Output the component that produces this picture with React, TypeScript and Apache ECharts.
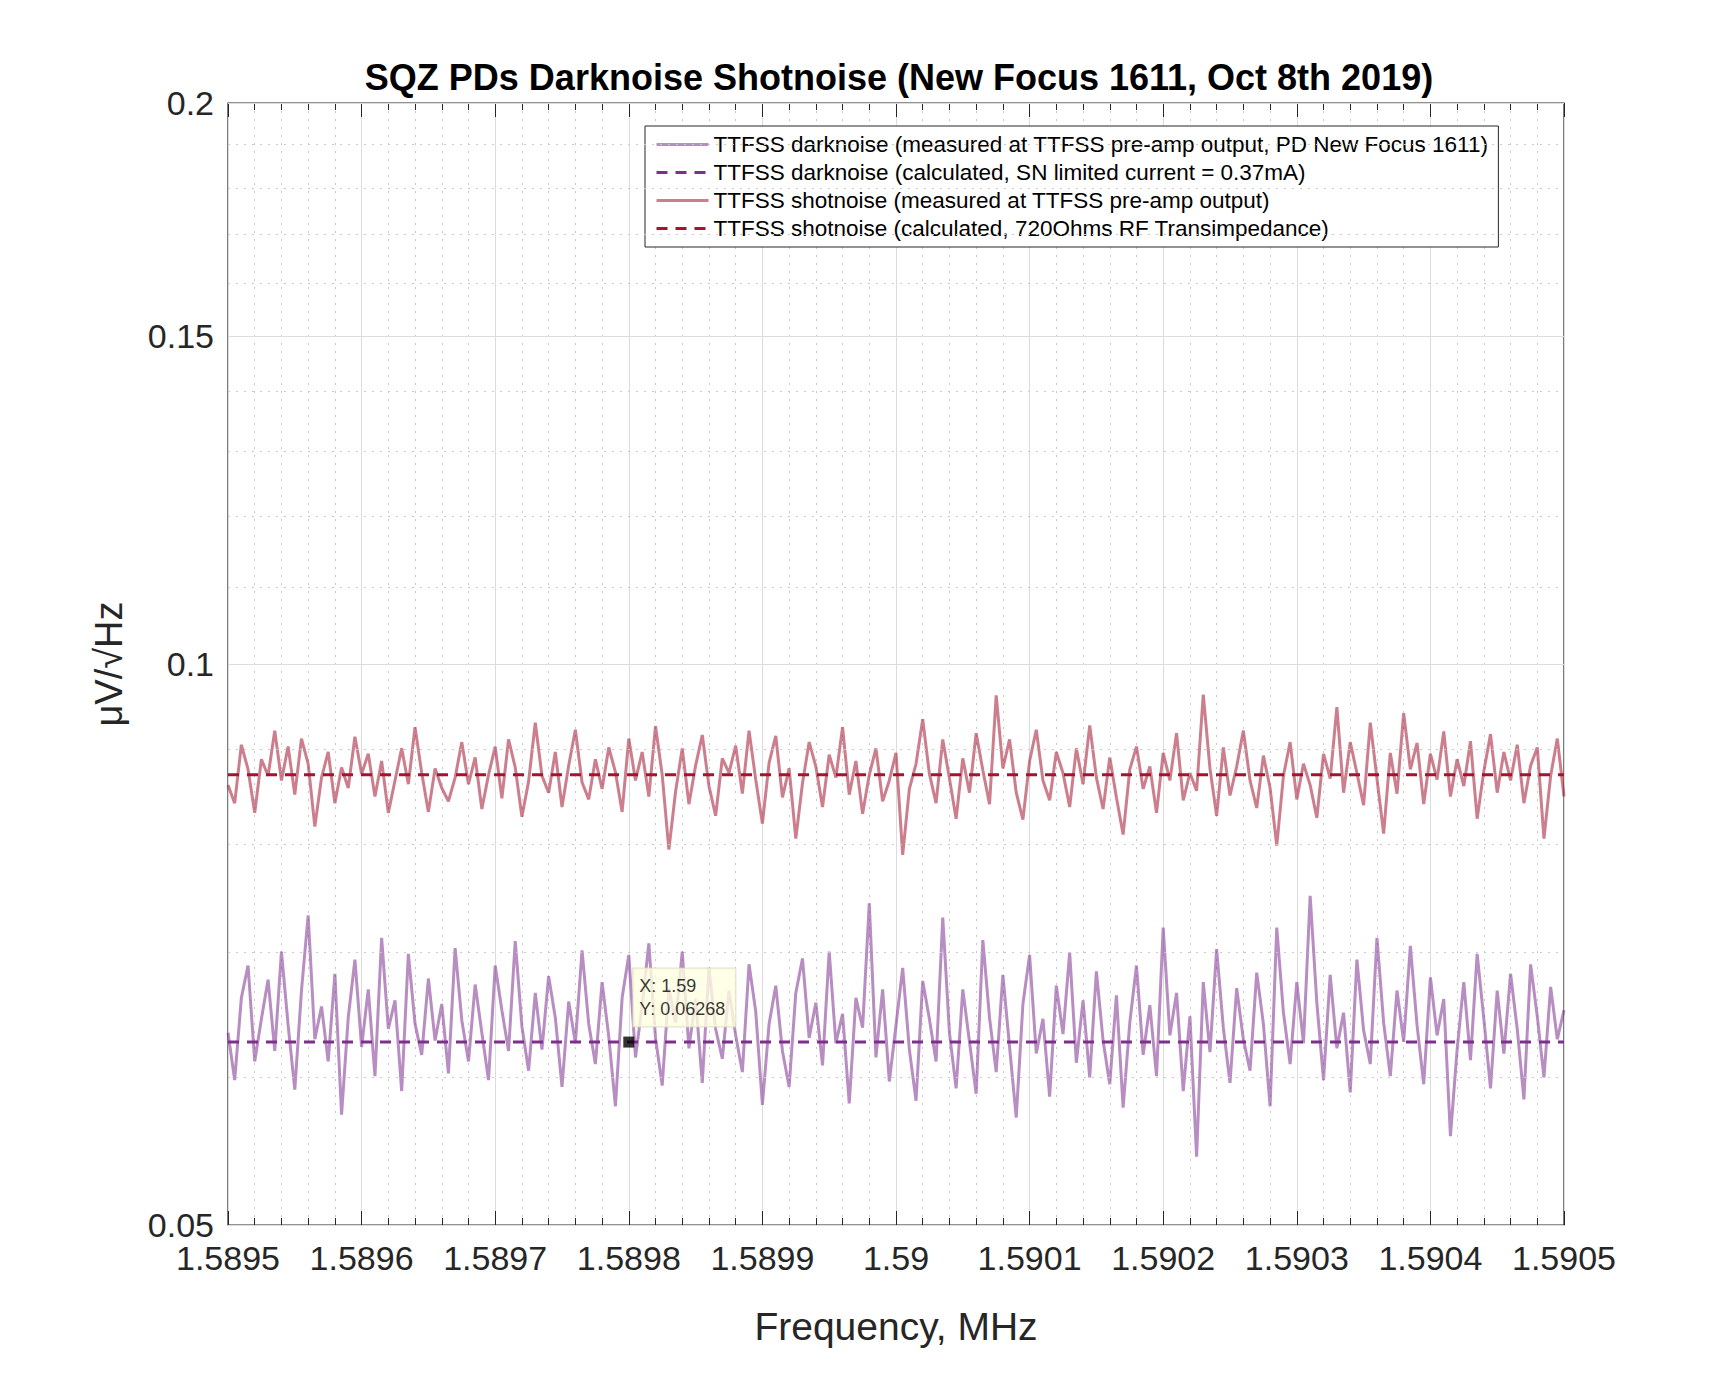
import React, { useEffect, useRef } from "react";
import * as echarts from "echarts";

const freqStart = 1.5895;
const freqStep = 0.000005;

// measured shot noise, µV/√Hz
const shotMeasured = [
  0.0861, 0.0842, 0.0905, 0.0878, 0.0832, 0.0889, 0.0871, 0.0921, 0.0866, 0.0903,
  0.0851, 0.0912, 0.0884, 0.0818, 0.0869, 0.0897, 0.0842, 0.0880, 0.0858, 0.0914,
  0.0873, 0.0895, 0.0849, 0.0887, 0.0832, 0.0866, 0.0901, 0.0862, 0.0925, 0.0874,
  0.0833, 0.0879, 0.0858, 0.0844, 0.0869, 0.0908, 0.0862, 0.0891, 0.0836, 0.0872,
  0.0903, 0.0847, 0.0911, 0.0880, 0.0828, 0.0865, 0.0930, 0.0871, 0.0853, 0.0897,
  0.0838, 0.0882, 0.0922, 0.0864, 0.0846, 0.0889, 0.0857, 0.0902, 0.0875, 0.0833,
  0.0912, 0.0866, 0.0897, 0.0849, 0.0926, 0.0872, 0.0795, 0.0854, 0.0901, 0.0841,
  0.0882, 0.0916, 0.0860, 0.0829, 0.0890, 0.0874, 0.0904, 0.0852, 0.0921, 0.0867,
  0.0821, 0.0885, 0.0915, 0.0848, 0.0879, 0.0806, 0.0863, 0.0908, 0.0881, 0.0838,
  0.0894, 0.0869, 0.0925, 0.0851, 0.0887, 0.0831, 0.0872, 0.0901, 0.0844, 0.0866,
  0.0896, 0.0790, 0.0857, 0.0884, 0.0934, 0.0873, 0.0842, 0.0911, 0.0868, 0.0826,
  0.0890, 0.0853, 0.0918, 0.0877, 0.0841, 0.0962, 0.0879, 0.0911, 0.0853, 0.0825,
  0.0887, 0.0922, 0.0866, 0.0845, 0.0897, 0.0874, 0.0838, 0.0901, 0.0862, 0.0927,
  0.0869, 0.0836, 0.0891, 0.0848, 0.0810, 0.0878, 0.0903, 0.0857, 0.0881, 0.0832,
  0.0896, 0.0866, 0.0918, 0.0845, 0.0874, 0.0855, 0.0963, 0.0879, 0.0829, 0.0902,
  0.0850, 0.0881, 0.0921, 0.0866, 0.0837, 0.0893, 0.0858, 0.0799, 0.0871, 0.0908,
  0.0846, 0.0884, 0.0861, 0.0827, 0.0895, 0.0868, 0.0948, 0.0853, 0.0908, 0.0874,
  0.0840, 0.0930, 0.0868, 0.0811, 0.0896, 0.0852, 0.0941, 0.0878, 0.0907, 0.0841,
  0.0895, 0.0867, 0.0920, 0.0849, 0.0889, 0.0860, 0.0909, 0.0826, 0.0876, 0.0917,
  0.0853, 0.0897, 0.0866, 0.0905, 0.0842, 0.0882, 0.0902, 0.0806, 0.0871, 0.0912,
  0.0849,
];

// measured dark noise, µV/√Hz
const darkMeasured = [
  0.0634, 0.0598, 0.0662, 0.0689, 0.0612, 0.0645, 0.0677, 0.0620, 0.0701, 0.0640,
  0.0591, 0.0668, 0.0733, 0.0629, 0.0655, 0.0612, 0.0682, 0.0573, 0.0646, 0.0694,
  0.0623, 0.0669, 0.0601, 0.0713, 0.0637, 0.0660, 0.0590, 0.0699, 0.0641, 0.0617,
  0.0678, 0.0628, 0.0657, 0.0603, 0.0704, 0.0644, 0.0612, 0.0673, 0.0634, 0.0598,
  0.0689, 0.0652, 0.0620, 0.0710, 0.0639, 0.0605, 0.0666, 0.0621, 0.0680, 0.0646,
  0.0593, 0.0659, 0.0626, 0.0702, 0.0641, 0.0610, 0.0675, 0.0631, 0.0579, 0.0662,
  0.0698, 0.0615, 0.0656, 0.0708, 0.0630, 0.0594, 0.0670, 0.0642, 0.0701, 0.0622,
  0.0661, 0.0596, 0.0687, 0.0637, 0.0614, 0.0668, 0.0632, 0.0604, 0.0690, 0.0651,
  0.0580, 0.0641, 0.0672, 0.0620, 0.0593, 0.0666, 0.0695, 0.0630, 0.0658, 0.0609,
  0.0701, 0.0626, 0.0649, 0.0581, 0.0662, 0.0638, 0.0744, 0.0615, 0.0669, 0.0597,
  0.0640, 0.0687, 0.0621, 0.0583, 0.0676, 0.0645, 0.0612, 0.0731, 0.0634, 0.0592,
  0.0669, 0.0627, 0.0588, 0.0711, 0.0646, 0.0604, 0.0681, 0.0623, 0.0571, 0.0657,
  0.0698, 0.0618, 0.0645, 0.0586, 0.0672, 0.0633, 0.0700, 0.0611, 0.0660, 0.0600,
  0.0684, 0.0628, 0.0595, 0.0664, 0.0578, 0.0642, 0.0689, 0.0617, 0.0656, 0.0601,
  0.0722, 0.0632, 0.0666, 0.0590, 0.0647, 0.0544, 0.0675, 0.0619, 0.0703, 0.0638,
  0.0596, 0.0670, 0.0629, 0.0605, 0.0683, 0.0641, 0.0579, 0.0722, 0.0650, 0.0610,
  0.0675, 0.0626, 0.0751, 0.0658, 0.0598, 0.0681, 0.0622, 0.0650, 0.0589, 0.0694,
  0.0636, 0.0610, 0.0713, 0.0642, 0.0601, 0.0668, 0.0627, 0.0706, 0.0640, 0.0595,
  0.0679, 0.0632, 0.0661, 0.0558, 0.0621, 0.0675, 0.0613, 0.0699, 0.0645, 0.0592,
  0.0668, 0.0618, 0.0682, 0.0637, 0.0584, 0.0690, 0.0647, 0.0600, 0.0671, 0.0629,
  0.0652,
];

const darkCalculated = 0.06268;
const shotCalculated = 0.0872;

const majorTicks = [0.05, 0.1, 0.15, 0.2];
const minorTicks = [0.06, 0.07, 0.08, 0.09, 0.11, 0.12, 0.13, 0.14, 0.16, 0.17, 0.18, 0.19];

const tipPoint = [1.5898, 0.06268];

const seriesNames = [
  "TTFSS darknoise (measured at TTFSS pre-amp output, PD New Focus 1611)",
  "TTFSS darknoise (calculated, SN limited current = 0.37mA)",
  "TTFSS shotnoise (measured at TTFSS pre-amp output)",
  "TTFSS shotnoise (calculated, 720Ohms RF Transimpedance)",
];

const font = "'Liberation Sans', Arial, Helvetica, sans-serif";

export default function App() {
  const ref = useRef<HTMLDivElement | null>(null);

  useEffect(() => {
    if (!ref.current) return;
    const chart = echarts.init(ref.current, undefined, { renderer: "svg" });
    const freqs = shotMeasured.map((_, i) => freqStart + i * freqStep);
    const xMin = freqs[0];
    const xMax = freqs[freqs.length - 1];

    const option: any = {
      animation: false,
      textStyle: { fontFamily: font },
      title: {
        text: "SQZ PDs Darknoise Shotnoise (New Focus 1611, Oct 8th 2019)",
        left: 886,
        top: 46,
        textAlign: "center",
        textStyle: { fontSize: 36, fontWeight: "bold", color: "#000", fontFamily: font },
      },
      legend: {
        data: seriesNames,
        orient: "vertical",
        left: 637,
        top: 118,
        itemGap: 5,
        itemWidth: 52,
        itemHeight: 16,
        padding: [7, 10, 7, 10],
        backgroundColor: "#fff",
        borderColor: "#262626",
        borderWidth: 1,
        itemStyle: { opacity: 0 },
        lineStyle: { width: 3 },
        textStyle: { fontSize: 22.5, color: "#000", fontFamily: font },
      },
      grid: { left: 220, right: 156, top: 95, bottom: 143, show: true, borderColor: "#262626", borderWidth: 1.2, backgroundColor: "transparent" },
      xAxis: [
        {
          type: "value",
          min: 1.5895,
          max: 1.5905,
          interval: 0.0001,
          name: "Frequency, MHz",
          nameLocation: "middle",
          nameGap: 82,
          nameTextStyle: { fontSize: 39, color: "#262626", fontFamily: font },
          axisLine: { show: false },
          axisTick: { inside: true, length: 14, lineStyle: { color: "#262626" } },
          minorTick: { show: true, splitNumber: 5, length: 7, lineStyle: { color: "#262626" } },
          axisLabel: {
            fontSize: 34,
            color: "#262626",
            margin: 16,
            fontFamily: font,
            formatter: (v: number) => String(parseFloat(v.toFixed(4))),
          },
          splitLine: { show: true, lineStyle: { color: "#dcdcdc", width: 1 } },
          minorSplitLine: { show: true, lineStyle: { color: "#c8c8c8", type: [2, 6], width: 1 } },
        },
        {
          type: "value",
          position: "top",
          min: 1.5895,
          max: 1.5905,
          interval: 0.0001,
          axisLine: { show: false },
          axisTick: { inside: true, length: 14, lineStyle: { color: "#262626" } },
          minorTick: { show: true, splitNumber: 5, length: 7, lineStyle: { color: "#262626" } },
          axisLabel: { show: false },
          splitLine: { show: false },
        },
      ],
      yAxis: {
        type: "log",
        logBase: 10,
        min: 0.05,
        max: 0.2,
        name: "μV/√Hz",
        nameLocation: "middle",
        nameGap: 100,
        nameTextStyle: { fontSize: 38, color: "#262626", fontFamily: font },
        axisLine: { show: false },
        axisTick: { show: false },
        axisLabel: { show: false },
        splitLine: { show: false },
      },
      series: [
        {
          name: "grid",
          type: "line",
          data: [],
          silent: true,
          markLine: {
            silent: true,
            symbol: "none",
            animation: false,
            data: [
              ...majorTicks.map((v) => ({
                yAxis: v,
                lineStyle: { color: "#dcdcdc", type: "solid", width: 1 },
                label: {
                  show: true,
                  position: "start",
                  distance: 14,
                  formatter: String(v),
                  fontSize: 34,
                  color: "#262626",
                  fontFamily: font,
                },
              })),
              ...minorTicks.map((v) => ({
                yAxis: v,
                lineStyle: { color: "#c8c8c8", type: [2, 6], width: 1 },
                label: { show: false },
              })),
            ],
          },
        },
        {
          name: seriesNames[0],
          type: "line",
          showSymbol: false,
          symbol: "none",
          data: freqs.map((f, i) => [f, darkMeasured[i]]),
          lineStyle: { color: "#7e2f8e", width: 3, opacity: 0.55 },
          itemStyle: { color: "#c29ccb" },
          z: 3,
        },
        {
          name: seriesNames[1],
          type: "line",
          symbol: "none",
          data: [[xMin, darkCalculated], [xMax, darkCalculated]],
          lineStyle: { color: "#7e2f8e", width: 3, type: [11, 8] },
          itemStyle: { color: "#7e2f8e" },
          z: 4,
        },
        {
          name: seriesNames[2],
          type: "line",
          symbol: "none",
          data: freqs.map((f, i) => [f, shotMeasured[i]]),
          lineStyle: { color: "#a2142f", width: 3, opacity: 0.55 },
          itemStyle: { color: "#d58a97" },
          z: 3,
        },
        {
          name: seriesNames[3],
          type: "line",
          symbol: "none",
          data: [[xMin, shotCalculated], [xMax, shotCalculated]],
          lineStyle: { color: "#a2142f", width: 3, type: [11, 8] },
          itemStyle: { color: "#a2142f" },
          z: 4,
        },
        {
          name: "datatip",
          type: "scatter",
          symbol: "rect",
          symbolSize: 11,
          data: [tipPoint],
          itemStyle: { color: "#000" },
          z: 6,
          label: {
            show: true,
            position: [10, -68],
            formatter: `X: ${parseFloat(tipPoint[0].toPrecision(4))}\nY: ${tipPoint[1]}`,
            fontSize: 18,
            lineHeight: 23,
            color: "#000",
            fontFamily: font,
            backgroundColor: "#ffffe1",
            borderColor: "#d8d8c0",
            borderWidth: 1,
            padding: [6, 10, 6, 6],
          },
        },
      ],
    };

    chart.setOption(option);
    return () => chart.dispose();
  }, []);

  return <div ref={ref} style={{ width: 1712, height: 1360 }} />;
}
